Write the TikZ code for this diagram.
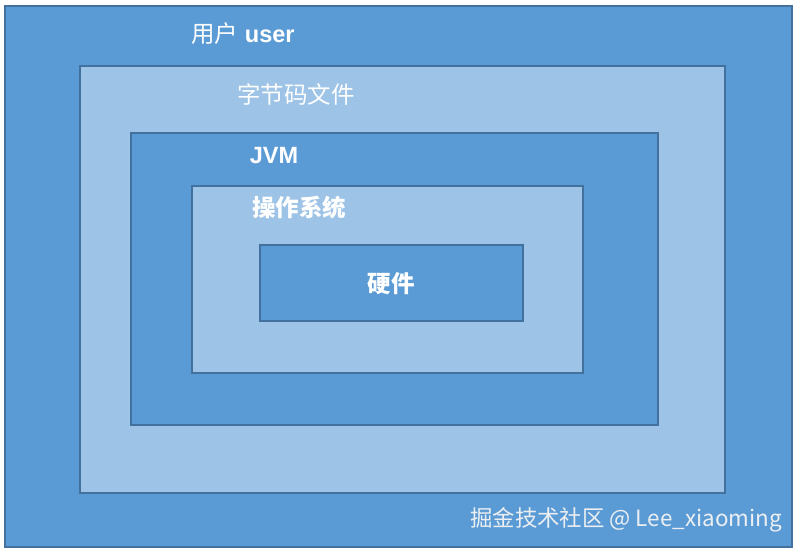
\documentclass[tikz,border=0pt]{standalone}
\usepackage{fontspec}
\newfontfamily\cjk{Noto Sans CJK SC}
\setmainfont{Liberation Sans}
\definecolor{darkfill}{HTML}{5B9BD5}
\definecolor{lightfill}{HTML}{9DC3E6}
\definecolor{edge}{HTML}{41719C}
\definecolor{mark}{HTML}{ECEFF2}
\tikzset{
  darkbox/.style={draw=edge, line width=1.6pt, fill=darkfill},
  lightbox/.style={draw=edge, line width=1.6pt, fill=lightfill},
  lbl/.style={text=white, font=\cjk\bfseries\fontsize{23.5}{26}\selectfont, inner sep=0pt},
  wm/.style={text=mark, font=\cjk\fontsize{22.4}{26}\selectfont, inner sep=0pt}
}
\begin{document}
\begin{tikzpicture}[x=1pt,y=-1pt]
\useasboundingbox[fill=white] (0,0) rectangle (797,551);
\draw[darkbox] (5,6) rectangle (792,547);
\draw[lightbox] (80,66) rectangle (725,493);
\draw[darkbox] (131,133) rectangle (658,425);
\draw[lightbox] (192,186) rectangle (583,373);
\draw[darkbox] (260,245) rectangle (523,321);
\node[lbl, font=\fontsize{23.5}{26}\selectfont] (user) at (243,34) {{\cjk 用户} \textbf{user}};
\node[lbl, font=\cjk\fontsize{23.5}{26}\selectfont] (byte) at (296,94) {字节码文件};
\node[lbl, font=\bfseries\fontsize{23.5}{26}\selectfont] (jvm) at (274,156) {JVM};
\node[lbl] (os) at (299,208) {操作系统};
\node[lbl] (hw) at (391,284) {硬件};
\node[wm] (mark) at (626,520) {掘金技术社区 @ Lee\_xiaoming};
\end{tikzpicture}
\end{document}
